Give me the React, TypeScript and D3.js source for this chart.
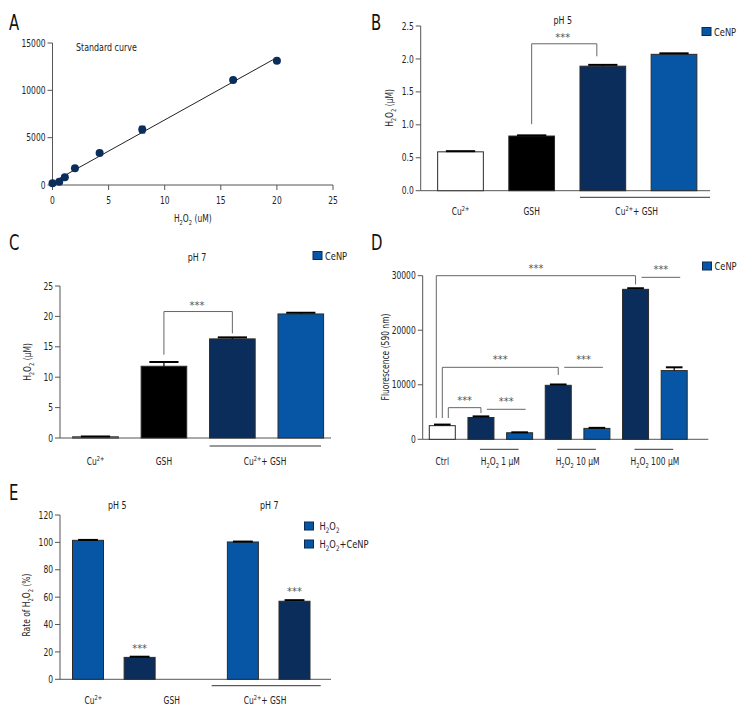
import React from "react";
import * as d3 from "d3";

const FONT = "'DejaVu Sans Condensed','Liberation Sans Narrow',sans-serif";
const SX = 0.84;
const NAVY = "#0b2d5b";
const BLUE = "#0756a5";
const AX = "#555";
const TXT = "#222";
const BR = "#666";

// ---------- Panel A: standard curve ----------
const stdX = [0, 0.6, 1.1, 2, 4.2, 8, 16.1, 20];
const stdY = [180, 350, 810, 1770, 3390, 5850, 11080, 13130];
const stdErr = [0, 0, 0, 0, 0, 350, 0, 0];
const aXTicks = [0, 5, 10, 15, 20, 25];
const aYTicks = [0, 5000, 10000, 15000];

// ---------- Panel B: pH 5 ----------
const bCats = ["Cu", "GSH", "CuGSH", "CuGSHCe"];
const bVals = [0.59, 0.83, 1.89, 2.07];
const bErr = [0.01, 0.01, 0.02, 0.015];
const bYTicks = [0, 0.5, 1.0, 1.5, 2.0, 2.5];

// ---------- Panel C: pH 7 ----------
const cCats = ["Cu", "GSH", "CuGSH", "CuGSHCe"];
const cVals = [0.2, 11.8, 16.3, 20.4];
const cErr = [0.05, 0.7, 0.25, 0.2];
const cYTicks = [0, 5, 10, 15, 20, 25];

const fourFill = ["#ffffff", "#000000", NAVY, BLUE];

// ---------- Panel D: fluorescence ----------
const dCats = ["ctrl", "n1", "c1", "n10", "c10", "n100", "c100"];
const dVals = [2500, 4000, 1200, 9900, 2000, 27500, 12600];
const dErr = [200, 200, 80, 150, 100, 200, 600];
const dFill = ["#ffffff", NAVY, BLUE, NAVY, BLUE, NAVY, BLUE];
const dYTicks = [0, 10000, 20000, 30000];
const dGroupLabels = ["Ctrl", "H_2O_2 1 μM", "H_2O_2 10 μM", "H_2O_2 100 μM"];
const dBrackets = [
  { a: 0, b: 5, off: -6, left: 3900, top: 30000, right: 28400 },
  { a: 0, b: 3, off: 0, left: 3900, top: 13200, right: 11800 },
  { a: 0, b: 1, off: 6, left: 3900, top: 5800, right: 4800 },
];
const dPairs = [
  { a: 1, b: 2, v: 5500 },
  { a: 3, b: 4, v: 13200 },
  { a: 5, b: 6, v: 29700 },
];

// ---------- Panel E: rate ----------
const eSlots = ["cu_h", "cu_c", "gsh", "cg_h", "cg_c"];
const eVals = [101.5, 16, null, 100.3, 57];
const eErr = [0.3, 0.5, 0, 0.3, 0.8];
const eFill = [BLUE, NAVY, BLUE, BLUE, NAVY];
const eStars = [null, 22.6, null, null, 64.5];
const eYTicks = [0, 20, 40, 60, 80, 100, 120];

// parse "H_2O_2" and "Cu^{2+}" into segments
function parse(s: string) {
  const segs: { t: string; m: string }[] = [];
  let i = 0;
  let cur = "";
  while (i < s.length) {
    const ch = s[i];
    if (ch === "_") {
      if (cur) segs.push({ t: cur, m: "" });
      cur = "";
      segs.push({ t: s[i + 1], m: "sub" });
      i += 2;
    } else if (ch === "^" && s[i + 1] === "{") {
      if (cur) segs.push({ t: cur, m: "" });
      cur = "";
      const end = s.indexOf("}", i);
      segs.push({ t: s.slice(i + 2, end), m: "sup" });
      i = end + 1;
    } else {
      cur += ch;
      i++;
    }
  }
  if (cur) segs.push({ t: cur, m: "" });
  return segs;
}

function Rich({ s, x, y, fs = 10, anchor = "middle", rotate = 0, fill = TXT, sx = SX }: any) {
  const segs = parse(s);
  let prev = "";
  const sh = (m: string) => (m === "sub" ? fs * 0.3 : m === "sup" ? -fs * 0.4 : 0);
  return (
    <text
      x={0}
      y={0}
      fontSize={fs}
      fontFamily={FONT}
      fill={fill}
      textAnchor={anchor}
      transform={`translate(${x},${y}) rotate(${rotate}) scale(${sx},1)`}
    >
      {segs.map((sg, k) => {
        const dy = sh(sg.m) - sh(prev);
        prev = sg.m;
        return (
          <tspan key={k} dy={dy} fontSize={sg.m ? fs * 0.68 : fs}>
            {sg.t}
          </tspan>
        );
      })}
    </text>
  );
}

function YAxis({ scale, ticks, x, fmt }: any) {
  const [r0, r1] = scale.range();
  return (
    <g>
      <line x1={x} x2={x} y1={r0} y2={r1} stroke={AX} strokeWidth={1} />
      {ticks.map((t: number) => (
        <g key={t}>
          <line x1={x - 5} x2={x} y1={scale(t)} y2={scale(t)} stroke={AX} />
          <Rich s={fmt(t)} x={x - 7} y={scale(t) + 3.6} anchor="end" />
        </g>
      ))}
    </g>
  );
}

function Bars({ cats, vals, errs, fills, xs, ys, w }: any) {
  return (
    <g>
      {cats.map((c: string, i: number) => {
        const v = vals[i];
        if (v == null) return null;
        const cx = xs(c);
        const yTop = ys(v);
        const yErr = ys(v + errs[i]);
        return (
          <g key={c}>
            <rect
              x={cx - w / 2}
              y={yTop}
              width={w}
              height={ys(0) - yTop}
              fill={fills[i]}
              stroke="#2a2a2a"
              strokeWidth={1}
            />
            <line x1={cx} x2={cx} y1={yTop} y2={yErr} stroke="#000" strokeWidth={1.2} />
            <line
              x1={cx - w * 0.32}
              x2={cx + w * 0.32}
              y1={yErr}
              y2={yErr}
              stroke="#000"
              strokeWidth={2}
            />
          </g>
        );
      })}
    </g>
  );
}

function Stars({ x, y }: any) {
  return <Rich s="***" x={x} y={y} fs={11} fill="#555" sx={1} />;
}

function Bracket({ x1, x2, yl, yt, yr }: any) {
  return (
    <path
      d={`M${x1},${yl}V${yt}H${x2}V${yr}`}
      fill="none"
      stroke={BR}
      strokeWidth={1}
    />
  );
}

function LegendItem({ x, y, label, gap = 12 }: any) {
  return (
    <g>
      <rect x={x} y={y} width={9} height={8} fill={BLUE} stroke="#0a2a55" strokeWidth={1} />
      <Rich s={label} x={x + gap} y={y + 8} fs={11} anchor="start" />
    </g>
  );
}

function PanelLetter({ x, y, t }: any) {
  return <Rich s={t} x={x} y={y} fs={22} anchor="start" fill="#111" sx={0.75} />;
}

function PanelA() {
  const xs = d3.scaleLinear().domain([0, 25]).range([52.5, 333]);
  const ys = d3.scaleLinear().domain([0, 15000]).range([185, 43]);
  const mx = d3.mean(stdX)!;
  const my = d3.mean(stdY)!;
  const sxx = d3.sum(stdX, (x) => (x - mx) ** 2);
  const sxy = d3.sum(stdX, (x, i) => (x - mx) * (stdY[i] - my));
  const slope = sxy / sxx;
  const icpt = my - slope * mx;
  const fitX = [stdX[1], stdX[stdX.length - 1]];
  const line = d3
    .line<number>()
    .x((x) => xs(x))
    .y((x) => ys(icpt + slope * x));
  return (
    <g>
      <PanelLetter x={9} y={30} t="A" />
      <line x1={xs(0)} x2={xs(25)} y1={ys(0)} y2={ys(0)} stroke={AX} />
      {aXTicks.map((t) => (
        <g key={t}>
          <line x1={xs(t)} x2={xs(t)} y1={ys(0)} y2={ys(0) + 5} stroke={AX} />
          <Rich s={String(t)} x={xs(t)} y={ys(0) + 19} />
        </g>
      ))}
      <YAxis scale={ys} ticks={aYTicks} x={xs(0)} fmt={(t: number) => String(t)} />
      <Rich s="Standard curve" x={76} y={51} fs={10.5} anchor="start" />
      <Rich s="H_2O_2 (uM)" x={xs(12.5)} y={222} fs={10} />
      <path d={line(fitX) || ""} fill="none" stroke="#222" strokeWidth={1} />
      {stdX.map((x, i) => (
        <g key={i}>
          {stdErr[i] > 0 && (
            <g stroke={NAVY} strokeWidth={1.2}>
              <line x1={xs(x)} x2={xs(x)} y1={ys(stdY[i] - stdErr[i])} y2={ys(stdY[i] + stdErr[i])} />
              <line x1={xs(x) - 3} x2={xs(x) + 3} y1={ys(stdY[i] - stdErr[i])} y2={ys(stdY[i] - stdErr[i])} />
              <line x1={xs(x) - 3} x2={xs(x) + 3} y1={ys(stdY[i] + stdErr[i])} y2={ys(stdY[i] + stdErr[i])} />
            </g>
          )}
          <circle cx={xs(x)} cy={ys(stdY[i])} r={4} fill={NAVY} />
        </g>
      ))}
    </g>
  );
}

function PanelB() {
  const xs = d3.scalePoint<string>().domain(bCats).range([460.5, 674]);
  const ys = d3.scaleLinear().domain([0, 2.5]).range([190.7, 26]);
  const w = 45.7;
  const fmt = d3.format(".1f");
  return (
    <g>
      <PanelLetter x={371} y={30} t="B" />
      <line x1={420.7} x2={710} y1={ys(0)} y2={ys(0)} stroke={AX} />
      <YAxis scale={ys} ticks={bYTicks} x={420.7} fmt={fmt} />
      <Bars cats={bCats} vals={bVals} errs={bErr} fills={fourFill} xs={xs} ys={ys} w={w} />
      <Bracket x1={xs("GSH")!} x2={xs("CuGSH")! - 6} yl={ys(1.01)} yt={ys(2.23)} yr={ys(2.04)} />
      <Stars x={562.7} y={ys(2.23) - 3} />
      <Rich s="pH 5" x={562.7} y={24} fs={10.5} />
      <LegendItem x={702} y={27.5} label="CeNP" />
      <line x1={xs("CuGSH")! - w / 2} x2={710} y1={197.3} y2={197.3} stroke="#333" />
      <Rich s="Cu^{2+}" x={xs("Cu")} y={214.5} />
      <Rich s="GSH" x={xs("GSH")} y={214.5} />
      <Rich s="Cu^{2+}+ GSH" x={636.7} y={214.5} />
      <Rich s="H_2O_2 (μM)" x={393} y={108} rotate={-90} />
    </g>
  );
}

function PanelC() {
  const xs = d3.scalePoint<string>().domain(cCats).range([95.5, 300.8]);
  const ys = d3.scaleLinear().domain([0, 25]).range([438, 286]);
  const w = 45.6;
  return (
    <g>
      <PanelLetter x={9} y={250} t="C" />
      <line x1={60} x2={331} y1={ys(0)} y2={ys(0)} stroke={AX} />
      <YAxis scale={ys} ticks={cYTicks} x={60} fmt={(t: number) => String(t)} />
      <Bars cats={cCats} vals={cVals} errs={cErr} fills={fourFill} xs={xs} ys={ys} w={w} />
      <Bracket x1={xs("GSH")!} x2={xs("CuGSH")!} yl={ys(13.7)} yt={ys(20.8)} yr={ys(17.2)} />
      <Stars x={197} y={ys(20.8) - 3} />
      <Rich s="pH 7" x={197} y={261} fs={10.5} />
      <LegendItem x={313} y={251.5} label="CeNP" />
      <line x1={xs("CuGSH")! - w / 2} x2={321} y1={446} y2={446} stroke="#333" />
      <Rich s="Cu^{2+}" x={xs("Cu")} y={465} />
      <Rich s="GSH" x={xs("GSH")} y={465} />
      <Rich s="Cu^{2+}+ GSH" x={265} y={465} />
      <Rich s="H_2O_2 (μM)" x={31} y={362} rotate={-90} />
    </g>
  );
}

function PanelD() {
  const xs = d3.scalePoint<string>().domain(dCats).range([442.3, 674.2]);
  const ys = d3.scaleLinear().domain([0, 30000]).range([439.3, 275.7]);
  const w = 26;
  const cx = (i: number) => xs(dCats[i])!;
  const groupX = [cx(0), (cx(1) + cx(2)) / 2, (cx(3) + cx(4)) / 2, (cx(5) + cx(6)) / 2];
  return (
    <g>
      <PanelLetter x={371} y={250} t="D" />
      <line x1={422.7} x2={708.3} y1={ys(0)} y2={ys(0)} stroke={AX} />
      <YAxis scale={ys} ticks={dYTicks} x={422.7} fmt={(t: number) => String(t)} />
      <Bars cats={dCats} vals={dVals} errs={dErr} fills={dFill} xs={xs} ys={ys} w={w} />
      {dBrackets.map((b, k) => (
        <g key={k}>
          <Bracket x1={cx(b.a) + b.off} x2={cx(b.b)} yl={ys(b.left)} yt={ys(b.top)} yr={ys(b.right)} />
          <Stars x={(cx(b.a) + b.off + cx(b.b)) / 2} y={ys(b.top) - 4} />
        </g>
      ))}
      {dPairs.map((p, k) => (
        <g key={k}>
          <line x1={cx(p.a) + 6} x2={cx(p.b) + 6} y1={ys(p.v)} y2={ys(p.v)} stroke={BR} />
          <Stars x={(cx(p.a) + cx(p.b)) / 2 + 6} y={ys(p.v) - 4} />
        </g>
      ))}
      {[1, 3, 5].map((i) => (
        <line key={i} x1={cx(i) - 1} x2={cx(i + 1) - 1} y1={449.3} y2={449.3} stroke="#333" />
      ))}
      {dGroupLabels.map((g, k) => (
        <Rich key={k} s={g} x={groupX[k]} y={464.5} />
      ))}
      <LegendItem x={702.5} y={262} label="CeNP" />
      <Rich s="Fluorescence (590 nm)" x={389} y={357} rotate={-90} />
    </g>
  );
}

function PanelE() {
  const xs = d3.scalePoint<string>().domain(eSlots).range([88, 294.5]);
  const ys = d3.scaleLinear().domain([0, 120]).range([679.3, 515]);
  const w = 31;
  return (
    <g>
      <PanelLetter x={9} y={500} t="E" />
      <line x1={60} x2={331} y1={ys(0)} y2={ys(0)} stroke={AX} />
      <YAxis scale={ys} ticks={eYTicks} x={60} fmt={(t: number) => String(t)} />
      <Bars cats={eSlots} vals={eVals} errs={eErr} fills={eFill} xs={xs} ys={ys} w={w} />
      {eSlots.map((s, i) =>
        eStars[i] != null ? <Stars key={s} x={xs(s)} y={ys(eStars[i] as number) + 4} /> : null
      )}
      <Rich s="pH 5" x={117.3} y={509} fs={10.5} />
      <Rich s="pH 7" x={269.3} y={509} fs={10.5} />
      <LegendItem x={304.5} y={522} label="H_2O_2" gap={15} />
      <LegendItem x={304.5} y={540} label="H_2O_2+CeNP" gap={15} />
      <line x1={211.7} x2={320.7} y1={685.7} y2={685.7} stroke="#333" />
      <Rich s="Cu^{2+}" x={93.3} y={704} />
      <Rich s="GSH" x={171.7} y={704} />
      <Rich s="Cu^{2+}+ GSH" x={265} y={704} />
      <Rich s="Rate of H_2O_2 (%)" x={30} y={605} rotate={-90} />
    </g>
  );
}

export default function App() {
  return (
    <svg
      width={756}
      height={720}
      viewBox="0 0 756 720"
      style={{ position: "absolute", left: 0, top: 0, background: "#fff" }}
    >
      <rect width={756} height={720} fill="#fff" />
      <PanelA />
      <PanelB />
      <PanelC />
      <PanelD />
      <PanelE />
    </svg>
  );
}
